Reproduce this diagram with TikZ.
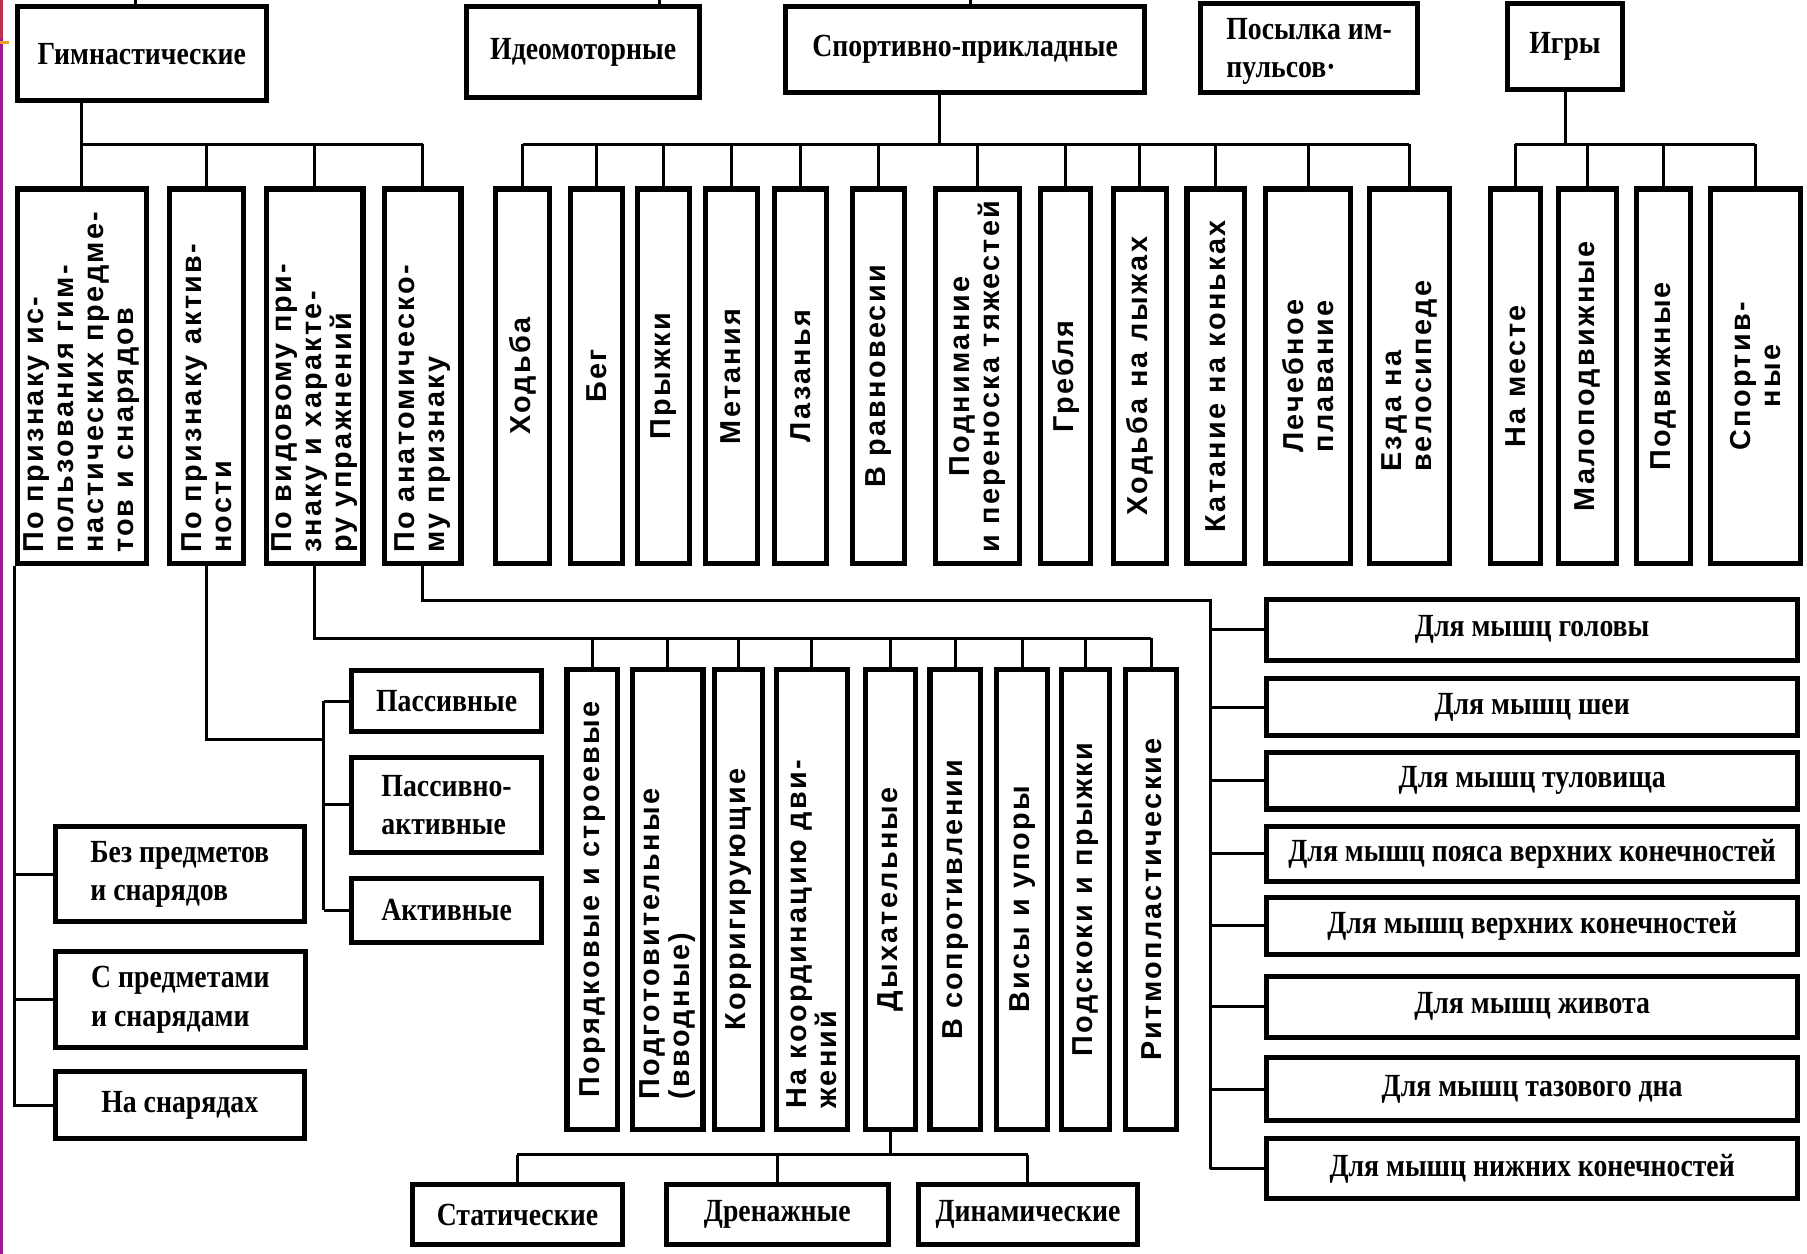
\documentclass[tikz,border=0pt]{standalone}
\usepackage{fontspec}
\setmainfont{Liberation Serif}
\newfontfamily\hfont[FakeStretch=0.86]{Liberation Serif}
\newfontfamily\vfont[LetterSpace=8]{Liberation Sans}
\usetikzlibrary{fit}
\definecolor{stripP}{HTML}{9C1A8C}
\definecolor{stripR}{HTML}{C0304E}
\definecolor{stripO}{HTML}{E8A030}
\tikzset{
  box/.style={draw, line width=2.2pt, inner sep=0pt, fill=white},
  conn/.style={line width=1.3pt},
  htext/.style={font=\hfont\bfseries\fontsize{14}{16.5}\selectfont, align=center, inner sep=0pt},
  vtext/.style={font=\vfont\bfseries\fontsize{12.5}{13}\selectfont, rotate=90, align=center, inner sep=0pt}
}
\newcommand\mkbox[5]{\node[box, fit={(#2,#3) (#4,#5)}] (#1) {};}
\newcommand\hlab[3][]{\node[htext,#1] (#2-t) at (#2.center) {#3};}
\newcommand\vlab[3][]{\node[vtext,#1] (#2-t) at (#2.center) {#3};}
\newcommand\vlabL[3][5.5pt]{\node[vtext, align=left, anchor=west] (#2-t) at ([yshift=#1]#2.south) {#3};}
\begin{document}
\begin{tikzpicture}[x=0.5pt,y=-0.5pt]
\useasboundingbox (0,0) rectangle (1568,1088);
\fill[white] (0,0) rectangle (1568,1088);
\fill[stripP] (0,0) rectangle (2.6,1088);
\fill[stripR] (0,0) rectangle (2.6,34);
\fill[stripO] (0,36) rectangle (8,38.5);

% ---------- top row ----------
\mkbox{gym}{15}{6}{231}{87}
\mkbox{ideo}{405}{6}{607}{85}
\mkbox{sport}{682}{6}{993}{80}
\mkbox{pos}{1042}{3}{1230}{80}
\mkbox{games}{1308}{3}{1408}{78}
\hlab{gym}{Гимнастические}
\hlab{ideo}{Идеомоторные}
\hlab{sport}{Спортивно-прикладные}
\node[htext, align=left] (pos-t) at ([yshift=-1.5pt]pos.center) {Посылка им-\\пульсов·};
\hlab{games}{Игры}

\coordinate (topG) at (118,0);
\coordinate (topI) at (572,0);
\coordinate (topS) at (842,0);
\draw[conn] (gym.north -| topG) -- (topG);
\draw[conn] (ideo.north -| topI) -- (topI);
\draw[conn] (sport.north -| topS) -- (topS);

% ---------- second row ----------
\mkbox{g1}{15}{164}{127}{489}
\mkbox{g2}{147}{164}{211}{489}
\mkbox{g3}{231}{164}{315}{489}
\mkbox{g4}{334}{164}{400}{489}
\vlabL{g1}{По признаку ис-\\пользования гим-\\настических предме-\\тов и снарядов}
\vlabL{g2}{По признаку актив-\\ности}
\vlabL{g3}{По видовому при-\\знаку и характе-\\ру упражнений}
\vlabL{g4}{По анатомическо-\\му признаку}

\mkbox{s1}{430}{164}{477}{489}
\mkbox{s2}{495}{164}{540}{489}
\mkbox{s3}{553}{164}{598}{489}
\mkbox{s4}{612}{164}{657}{489}
\mkbox{s5}{672}{164}{717}{489}
\mkbox{s6}{740}{164}{785}{489}
\mkbox{s7}{812}{164}{885}{489}
\mkbox{s8}{903}{164}{946}{489}
\mkbox{s9}{966}{164}{1012}{489}
\mkbox{s10}{1030}{164}{1080}{489}
\mkbox{s11}{1098}{164}{1172}{489}
\mkbox{s12}{1188}{164}{1258}{489}
\vlab{s1}{Ходьба}
\vlab{s2}{Бег}
\vlab{s3}{Прыжки}
\vlab{s4}{Метания}
\vlab{s5}{Лазанья}
\vlab{s6}{В равновесии}
\vlab{s7}{Поднимание\\и переноска тяжестей}
\vlab{s8}{Гребля}
\vlab{s9}{Ходьба на лыжах}
\vlab{s10}{Катание на коньках}
\vlab{s11}{Лечебное\\плавание}
\vlab[align=left]{s12}{Езда на\\велосипеде}

\mkbox{k1}{1293}{164}{1337}{489}
\mkbox{k2}{1352}{164}{1403}{489}
\mkbox{k3}{1420}{164}{1467}{489}
\mkbox{k4}{1484}{164}{1562}{489}
\vlab{k1}{На месте}
\vlab{k2}{Малоподвижные}
\vlab{k3}{Подвижные}
\vlab{k4}{Спортив-\\ные}

% buses of the top row
\coordinate (busG) at (0,125);
\coordinate (busS) at (815,125);
\draw[conn] (gym.south -| g1.north) -- (g1.north);
\draw[conn] (g1.north |- busG) -- (g4.north |- busG);
\foreach \n in {g2,g3,g4} \draw[conn] (\n.north |- busG) -- (\n.north);
\draw[conn] (sport.south -| busS) -- (busS);
\draw[conn] (s1.north |- busS) -- (s12.north |- busS);
\foreach \n in {s1,s2,s3,s4,s5,s6,s7,s8,s9,s10,s11,s12} \draw[conn] (\n.north |- busS) -- (\n.north);
\draw[conn] (games.south) -- (games.south |- busG);
\draw[conn] (k1.north |- busG) -- (k4.north |- busG);
\foreach \n in {k1,k2,k3,k4} \draw[conn] (\n.north |- busG) -- (\n.north);

% ---------- left lower group ----------
\mkbox{bez}{48}{717}{264}{800}
\mkbox{spr}{48}{826}{265}{909}
\mkbox{nasn}{48}{930}{264}{988}
\hlab[align=left]{bez}{Без предметов\\и снарядов}
\hlab[align=left]{spr}{С предметами\\и снарядами}
\hlab{nasn}{На снарядах}
\draw[conn] (g1.south west) -- (g1.south west |- nasn.west) -- (nasn.west);
\draw[conn] (g1.south west |- bez.west) -- (bez.west);
\draw[conn] (g1.south west |- spr.west) -- (spr.west);

% ---------- activity group ----------
\mkbox{pas}{305}{582}{470}{635}
\mkbox{pa}{305}{657}{470}{740}
\mkbox{akt}{305}{762}{470}{818}
\hlab{pas}{Пассивные}
\hlab[align=left]{pa}{Пассивно-\\активные}
\hlab{akt}{Активные}
\coordinate (g2c) at (281,642);
\draw[conn] (g2.south) |- (g2c);
\draw[conn] (pas.west -| g2c) -- (akt.west -| g2c);
\foreach \n in {pas,pa,akt} \draw[conn] (\n.west -| g2c) -- (\n.west);

% ---------- kinds of exercises ----------
\mkbox{v1}{492}{581}{536}{980}
\mkbox{v2}{549}{581}{610}{980}
\mkbox{v3}{620}{581}{662}{980}
\mkbox{v4}{674}{581}{735}{980}
\mkbox{v5}{751}{581}{794}{980}
\mkbox{v6}{807}{581}{851}{980}
\mkbox{v7}{865}{581}{909}{980}
\mkbox{v8}{921}{581}{963}{980}
\mkbox{v9}{977}{581}{1021}{980}
\vlab{v1}{Порядковые и строевые}
\vlabL[14pt]{v2}{Подготовительные\\(вводные)}
\vlab{v3}{Корригирующие}
\vlabL[10pt]{v4}{На координацию дви-\\жений}
\vlab{v5}{Дыхательные}
\vlab{v6}{В сопротивлении}
\vlab{v7}{Висы и упоры}
\vlab{v8}{Подскоки и прыжки}
\vlab{v9}{Ритмопластические}
\coordinate (busV) at (0,554);
\draw[conn] (g3.south) -- (g3.south |- busV) -- (v9.north |- busV);
\foreach \n in {v1,v2,v3,v4,v5,v6,v7,v8,v9} \draw[conn] (\n.north |- busV) -- (\n.north);

% ---------- breathing ----------
\mkbox{st}{358}{1028}{540}{1080}
\mkbox{dr}{578}{1028}{771}{1080}
\mkbox{dn}{797}{1028}{987}{1080}
\hlab{st}{Статические}
\hlab{dr}{Дренажные}
\hlab{dn}{Динамические}
\coordinate (busD) at (0,1002);
\draw[conn] (v5.south) -- (v5.south |- busD);
\draw[conn] (st.north |- busD) -- (dn.north |- busD);
\foreach \n in {st,dr,dn} \draw[conn] (\n.north |- busD) -- (\n.north);

% ---------- anatomical ----------
\mkbox{m1}{1099}{520}{1560}{573}
\mkbox{m2}{1099}{589}{1560}{638}
\mkbox{m3}{1099}{653}{1560}{702}
\mkbox{m4}{1099}{717}{1560}{765}
\mkbox{m5}{1099}{779}{1560}{828}
\mkbox{m6}{1099}{847}{1560}{900}
\mkbox{m7}{1099}{918}{1560}{972}
\mkbox{m8}{1099}{988}{1560}{1040}
\hlab{m1}{Для мышц головы}
\hlab{m2}{Для мышц шеи}
\hlab{m3}{Для мышц туловища}
\hlab{m4}{Для мышц пояса верхних конечностей}
\hlab{m5}{Для мышц верхних конечностей}
\hlab{m6}{Для мышц живота}
\hlab{m7}{Для мышц тазового дна}
\hlab{m8}{Для мышц нижних конечностей}
\coordinate (busM) at (1050,521);
\draw[conn] (g4.south) |- (busM) -- (busM |- m8.west);
\foreach \n in {m1,m2,m3,m4,m5,m6,m7,m8} \draw[conn] (\n.west -| busM) -- (\n.west);
\end{tikzpicture}
\end{document}
